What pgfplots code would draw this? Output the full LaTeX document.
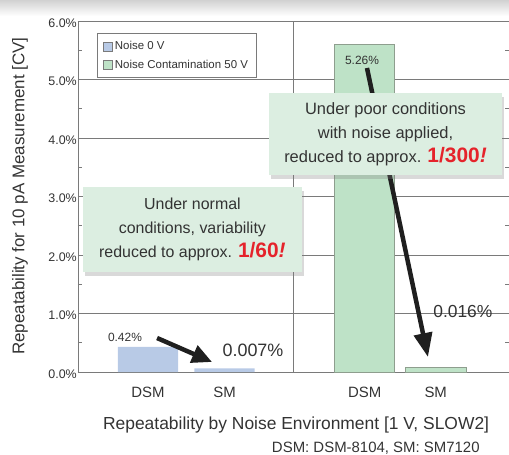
\documentclass[border=0pt]{standalone}
\usepackage{fontspec}
\setmainfont{Liberation Sans}
\usepackage{pgfplots}
\pgfplotsset{compat=1.18}
\usetikzlibrary{arrows.meta,shadows}
\definecolor{barblue}{HTML}{B8CAE6}
\definecolor{bargreen}{HTML}{BEE2C7}
\definecolor{boxgreen}{HTML}{DCEEE1}
\definecolor{txtgray}{HTML}{333333}
\definecolor{gridgray}{HTML}{7A7A7A}
\definecolor{redtxt}{HTML}{E5232B}
\definecolor{baredge}{HTML}{8E9E8E}
\begin{document}
\begin{tikzpicture}
\shade[top color=black!18, bottom color=white] (-78bp,356bp) rectangle (431bp,372bp);
\begin{axis}[
  at={(0,0)}, anchor=south west,
  scale only axis, width=431bp, height=351bp,
  xmin=0, xmax=2, ymin=0, ymax=6,
  xtick={0.325,0.68,1.33,1.66}, xticklabels={DSM,SM,DSM,SM},
  x tick style={draw=none},
  xticklabel style={font=\fontsize{15}{15}\selectfont, text=txtgray, yshift=-12bp},
  ytick={0,1,2,3,4,5,6}, minor y tick num=1,
  ymajorgrids, major grid style={gridgray, line width=0.9pt},
  extra x ticks={1}, extra x tick labels={},
  extra x tick style={grid=major, major tick length=0pt},
  yticklabel={\pgfmathprintnumber[fixed,fixed zerofill,precision=1]{\tick}\%},
  /pgf/number format/assume math mode=true,
  yticklabel style={font=\fontsize{12.5}{12.5}\selectfont, text=txtgray, inner sep=1bp, yshift=-2bp},
  axis line style={gridgray, line width=0.9pt},
  y tick style={gridgray, line width=0.7pt}, tick align=inside,
  major tick length=4bp, minor tick length=4bp,
  legend style={at={(rel axis cs:0.044,0.966)}, anchor=north west,
    font=\fontsize{11.5}{13}\selectfont, draw=gridgray, line width=0.9pt,
    inner xsep=6bp, inner ysep=6bp, row sep=5bp, text=txtgray,
    cells={anchor=west}},
  legend image code/.code={\draw[#1, draw=gridgray, line width=0.5pt] (0bp,-4.5bp) rectangle (9bp,4.5bp);},
  clip=false,
]
\addplot[ybar, bar shift=0pt, bar width=0.28, fill=barblue, draw=none] coordinates {(0.325,0.43) (0.68,0.06)};
\addlegendentry{Noise 0 V}
\addplot[ybar, bar shift=0pt, bar width=0.28, fill=bargreen, draw=baredge, line width=0.8pt] coordinates {(1.33,5.6) (1.66,0.08)};
\addlegendentry{Noise Contamination 50 V}

% value labels
\node[font=\fontsize{12}{12}\selectfont, text=txtgray] at (axis cs:0.218,0.598) {0.42\%};
\node[font=\fontsize{18}{18}\selectfont, text=txtgray] at (axis cs:0.812,0.376) {0.007\%};
\node[font=\fontsize{12}{12}\selectfont, text=txtgray] at (axis cs:1.318,5.33) {5.26\%};
\node[font=\fontsize{17.5}{17.5}\selectfont, text=txtgray] at (axis cs:1.786,1.026) {0.016\%};

% arrows
\draw[line width=4.5bp, black!88, -{Triangle[length=20bp,width=18bp]}] (axis cs:0.367,0.581) -- (axis cs:0.622,0.171);
\draw[line width=4.5bp, black!88, -{Triangle[length=24bp,width=18bp]}] (axis cs:1.341,5.197) -- (axis cs:1.624,0.256);

% annotation boxes
\node[fill=boxgreen, minimum width=219bp, minimum height=85bp, align=center, text=txtgray,
  font=\fontsize{16}{24}\selectfont,
  drop shadow={shadow xshift=2bp, shadow yshift=-4bp, opacity=0.3}]
  at (axis cs:0.531,2.436)
  {Under normal\\conditions, variability\\reduced to approx. {\fontsize{21}{21}\selectfont\bfseries\color{redtxt}1/60\textit{!}}};
\node[fill=boxgreen, minimum width=233bp, minimum height=82bp, align=center, text=txtgray,
  font=\fontsize{16.5}{24}\selectfont,
  drop shadow={shadow xshift=2bp, shadow yshift=-4bp, opacity=0.3}]
  at (axis cs:1.427,4.068)
  {Under poor conditions\\with noise applied,\\reduced to approx. {\fontsize{21}{21}\selectfont\bfseries\color{redtxt}1/300\textit{!}}};

% axis labels
\node[rotate=90, font=\fontsize{17}{17}\selectfont, text=txtgray] at (rel axis cs:-0.1346,0.501) {Repeatability for 10 pA Measurement [CV]};
\node[font=\fontsize{17.5}{17.5}\selectfont, text=txtgray] at (rel axis cs:0.506,-0.151) {Repeatability by Noise Environment [1 V, SLOW2]};
\node[anchor=east, font=\fontsize{15}{15}\selectfont, text=txtgray] at (rel axis cs:0.94,-0.2165) {DSM: DSM-8104, SM: SM7120};
\end{axis}
\pgfresetboundingbox
\path[use as bounding box] (-78bp,-83bp) rectangle (431bp,372bp);
\end{tikzpicture}
\end{document}
